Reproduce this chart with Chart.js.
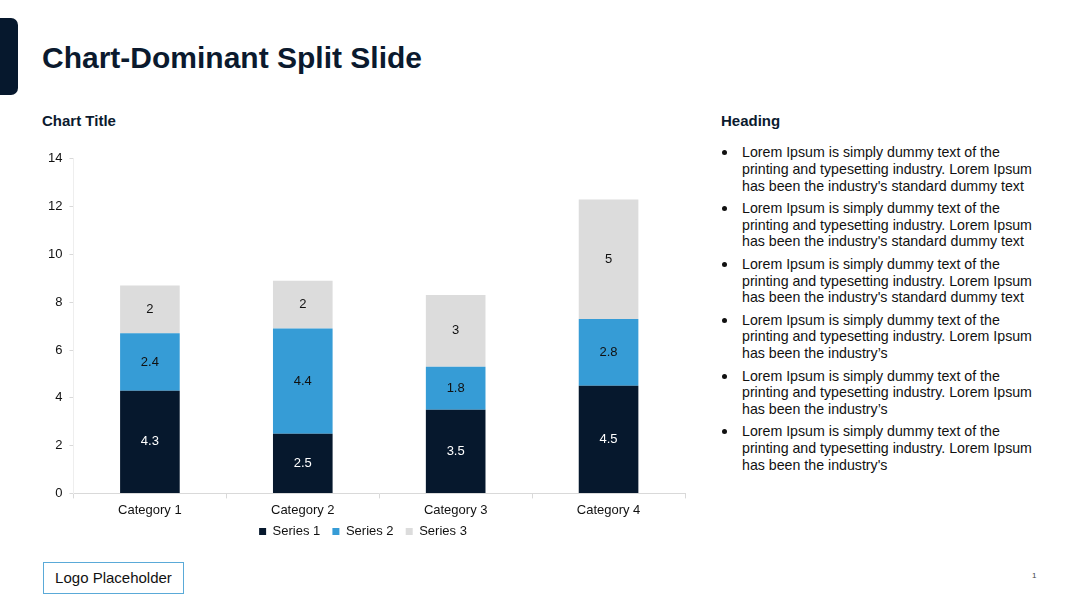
<!DOCTYPE html>
<html>
<head>
<meta charset="utf-8">
<script src="https://cdn.jsdelivr.net/npm/chart.js@4.4.0/dist/chart.umd.min.js"></script>
<style>
  html, body { margin: 0; padding: 0; background: #fff; }
  body { width: 1080px; height: 608px; position: relative; overflow: hidden; font-family: "Liberation Sans", Arial, sans-serif; color: #111; }
  .accent { position: absolute; left: 0; top: 18px; width: 18px; height: 77px; background: #06182d; border-radius: 0 7px 7px 0; }
  h1 { position: absolute; left: 42px; top: 41px; margin: 0; font-size: 30px; font-weight: bold; color: #0b1a2e; }
  .sub { position: absolute; top: 112px; margin: 0; font-size: 15px; font-weight: bold; color: #0b1a2e; }
  #chartBox { position: absolute; left: 30px; top: 144px; width: 670px; height: 408px; }
  ul { position: absolute; left: 721px; top: 144px; width: 340px; margin: 0; padding: 0; list-style: none; font-size: 14.2px; line-height: 16.8px; color: #111; }
  li { position: relative; margin-bottom: 5.5px; padding-left: 21px; }
  li::before { content: ''; position: absolute; left: 1px; top: 6px; width: 5px; height: 5px; border-radius: 50%; background: #111; }
  .logo { position: absolute; left: 43px; top: 562px; width: 139px; height: 30px; border: 1.5px solid #5aaad8; font-size: 15px; line-height: 30px; text-align: center; color: #111; }
  .pg { position: absolute; left: 1032px; top: 571px; font-size: 8px; color: #444; }
</style>
</head>
<body>
<div class="accent"></div>
<h1>Chart-Dominant Split Slide</h1>
<p class="sub" style="left:42px">Chart Title</p>
<p class="sub" style="left:721px">Heading</p>
<div id="chartBox"><canvas id="chart"></canvas></div>
<ul>
  <li>Lorem Ipsum is simply dummy text of the<br>printing and typesetting industry. Lorem Ipsum<br>has been the industry's standard dummy text</li>
  <li>Lorem Ipsum is simply dummy text of the<br>printing and typesetting industry. Lorem Ipsum<br>has been the industry's standard dummy text</li>
  <li>Lorem Ipsum is simply dummy text of the<br>printing and typesetting industry. Lorem Ipsum<br>has been the industry's standard dummy text</li>
  <li>Lorem Ipsum is simply dummy text of the<br>printing and typesetting industry. Lorem Ipsum<br>has been the industry’s</li>
  <li>Lorem Ipsum is simply dummy text of the<br>printing and typesetting industry. Lorem Ipsum<br>has been the industry’s</li>
  <li>Lorem Ipsum is simply dummy text of the<br>printing and typesetting industry. Lorem Ipsum<br>has been the industry's</li>
</ul>
<div class="logo">Logo Placeholder</div>
<div class="pg">1</div>

<script>
const categories = ['Category 1', 'Category 2', 'Category 3', 'Category 4'];
const series1 = [4.3, 2.5, 3.5, 4.5];
const series2 = [2.4, 4.4, 1.8, 2.8];
const series3 = [2, 2, 3, 5];
const seriesNames = ['Series 1', 'Series 2', 'Series 3'];
const seriesColors = ['#06182d', '#369cd6', '#dcdcdc'];
const labelColors = ['#ffffff', '#111111', '#111111'];

// draw the value in the middle of every segment
const barLabels = {
    id: 'barLabels',
    afterDatasetsDraw(chart) {
        const c = chart.ctx;
        c.save();
        c.font = '13px "Liberation Sans", Arial, sans-serif';
        c.textAlign = 'center';
        c.textBaseline = 'middle';
        chart.data.datasets.forEach((ds, i) => {
            chart.getDatasetMeta(i).data.forEach((bar, j) => {
                c.fillStyle = labelColors[i];
                c.fillText(String(ds.data[j]), bar.x, (bar.y + bar.base) / 2);
            });
        });
        c.restore();
    }
};

new Chart(document.getElementById('chart'), {
    type: 'bar',
    data: {
        labels: categories,
        datasets: [series1, series2, series3].map((d, i) => ({
            label: seriesNames[i],
            data: d,
            backgroundColor: seriesColors[i],
            borderWidth: 0,
            categoryPercentage: 1,
            barPercentage: 0.39
        }))
    },
    options: {
        responsive: true,
        maintainAspectRatio: false,
        animation: false,
        layout: { padding: { left: 11, right: 15, top: 13, bottom: 4 } },
        scales: {
            x: {
                stacked: true,
                grid: { offset: true, drawOnChartArea: false, tickLength: 5, color: '#d9d9d9' },
                border: { color: '#d9d9d9' },
                ticks: { color: '#111', font: { family: 'Liberation Sans', size: 13 }, padding: 4 }
            },
            y: {
                stacked: true,
                min: 0,
                max: 14,
                ticks: { stepSize: 2, color: '#111', font: { family: 'Liberation Sans', size: 13 }, padding: 7 },
                grid: { drawOnChartArea: false, tickLength: 4, color: '#d9d9d9' },
                border: { color: '#eeeeee' }
            }
        },
        plugins: {
            legend: {
                position: 'bottom',
                labels: {
                    boxWidth: 7, boxHeight: 7, padding: 3, color: '#111',
                    font: { family: 'Liberation Sans', size: 13 },
                    // padding is kept small for the vertical fit, so widen the gaps with spaces
                    generateLabels(chart) {
                        const items = Chart.defaults.plugins.legend.labels.generateLabels(chart);
                        items.forEach((it, i) => { if (i < items.length - 1) it.text += '\u2002\u2009'; });
                        return items;
                    }
                }
            },
            tooltip: { enabled: false }
        }
    },
    plugins: [barLabels]
});
</script>
</body>
</html>
